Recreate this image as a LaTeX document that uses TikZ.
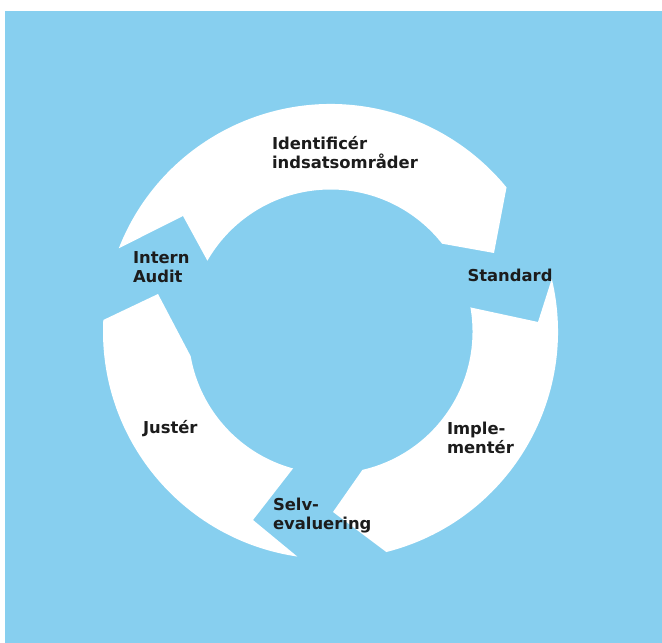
\documentclass[tikz,border=0pt]{standalone}
\usepackage{fontspec}
\setmainfont{DejaVu Sans}
\definecolor{bgblue}{RGB}{135,207,239}
\definecolor{txt}{RGB}{28,28,28}
\begin{document}
\begin{tikzpicture}[x=1pt,y=1pt,
  seg/.style={fill=white,draw=none},
  lbl/.style={inner sep=0pt,outer sep=0pt,anchor=base west,align=left,text=txt,
    font=\fontsize{16.4}{19}\selectfont\bfseries}]
\useasboundingbox (0,0) rectangle (662,643);
\fill[white] (0,0) rectangle (662,643);
\fill[bgblue] (5,0) rectangle (662,632);
\coordinate (C) at (330.5,311.5);
\begin{scope}[shift={(C)}]
  % top arrow
  \fill[seg] (158.55:227.5pt) arc[start angle=158.55,end angle=39.3,radius=227.5pt]
    -- (163.5,78.5) -- (38.2:142pt) arc[start angle=38.2,end angle=150.1,radius=142pt]
    -- (-147.5,115.5) -- cycle;
  % right arrow
  \fill[seg] (13.4:227.5pt) arc[start angle=13.4,end angle=-75.8,radius=227.5pt]
    -- (2.5,-180.5) -- (-77:142pt) arc[start angle=-77,end angle=9.76,radius=142pt]
    -- (207.5,9.5) -- cycle;
  % left arrow
  \fill[seg] (261.6:227.5pt) arc[start angle=261.6,end angle=177.1,radius=227.5pt]
    -- (-172.5,37.5) -- (190:142pt) arc[start angle=190,end angle=254.7,radius=142pt]
    -- (-77.5,-188.5) -- cycle;
\end{scope}
\node[lbl] (identify) at (272,474) {Identificér\\indsatsområder};
\node[lbl] (audit) at (133,360) {Intern\\Audit};
\node[lbl] (standard) at (467.5,361) {Standard};
\node[lbl] (juster) at (143,209) {Justér};
\node[lbl] (implement) at (447,189) {Imple-\\mentér};
\node[lbl] (selfeval) at (273,113) {Selv-\\evaluering};
\end{tikzpicture}
\end{document}
